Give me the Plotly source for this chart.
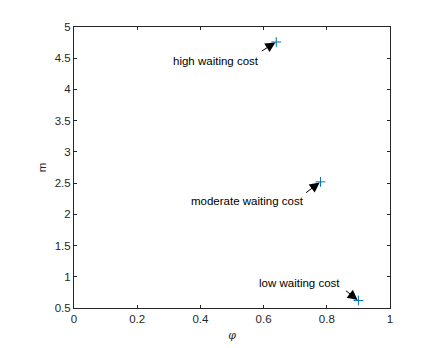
import plotly.graph_objects as go

phi = [0.64, 0.78, 0.90]
m = [4.76, 2.52, 0.62]
labels = ['high waiting cost', 'moderate waiting cost', 'low waiting cost']

xticks = [0, 0.2, 0.4, 0.6, 0.8, 1]
yticks = [0.5, 1, 1.5, 2, 2.5, 3, 3.5, 4, 4.5, 5]

# text offsets and arrow tails, in pixels from each point
text_shift = [(-60, -19), (-73, -19), (-59, 18)]
arrow_tail = [(-16, 10), (-16, 12), (-14, -11)]

axcol = '#262626'
fnt = 'Liberation Sans, Arial'

fig = go.Figure()
fig.add_trace(go.Scatter(
    x=phi, y=m, mode='markers',
    marker=dict(symbol='cross-thin', size=7, line=dict(color='#0072BD', width=1)),
    showlegend=False
))

for i in range(len(phi)):
    fig.add_annotation(x=phi[i], y=m[i], text=labels[i], showarrow=False,
                       xshift=text_shift[i][0], yshift=text_shift[i][1],
                       font=dict(family=fnt, size=11.5, color='black'))
    fig.add_annotation(x=phi[i], y=m[i], text='', showarrow=True,
                       ax=arrow_tail[i][0], ay=arrow_tail[i][1],
                       arrowhead=2, arrowsize=2, arrowwidth=1, arrowcolor='black',
                       standoff=1)

axis_style = dict(showline=True, linecolor=axcol, linewidth=1, mirror='ticks',
                  ticks='inside', ticklen=3, tickcolor=axcol, showgrid=False,
                  zeroline=False, automargin=False,
                  tickfont=dict(family=fnt, size=11.5, color=axcol))

fig.update_xaxes(range=[0, 1], tickvals=xticks, ticktext=[str(v) for v in xticks],
                 title=dict(text='<i>φ</i>', font=dict(family='DejaVu Serif', size=11, color=axcol), standoff=7),
                 **axis_style)
fig.update_yaxes(range=[0.5, 5], tickvals=yticks, ticktext=[f'{v:g}' for v in yticks],
                 title=dict(text='m', font=dict(family=fnt, size=11.5, color=axcol), standoff=5),
                 **axis_style)

# page has an 8px body margin, so the plot box is pulled back by that much
fig.update_layout(width=426, height=348, margin=dict(l=66, r=44, t=19, b=48),
                  plot_bgcolor='white', paper_bgcolor='white')
fig.write_html('out.html')
